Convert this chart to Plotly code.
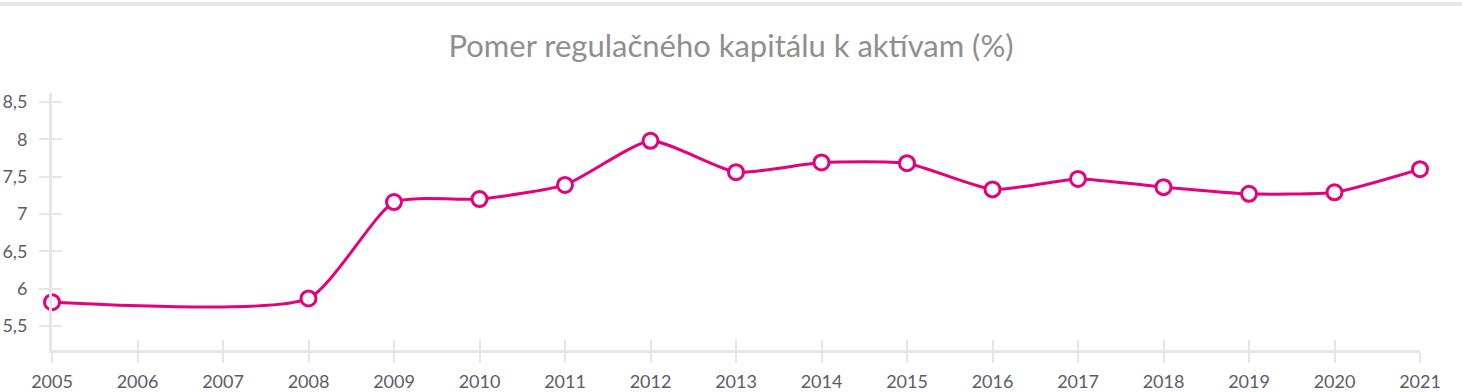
import plotly.graph_objects as go

years = [2005, 2008, 2009, 2010, 2011, 2012, 2013, 2014, 2015, 2016, 2017, 2018, 2019, 2020, 2021]
values = [5.82, 5.87, 7.16, 7.20, 7.39, 7.98, 7.56, 7.69, 7.68, 7.33, 7.47, 7.36, 7.27, 7.29, 7.60]
x_ticks = list(range(2005, 2022))
y_ticks = [5.5, 6, 6.5, 7, 7.5, 8, 8.5]
y_tick_labels = ["5,5", "6", "6,5", "7", "7,5", "8", "8,5"]
title = "Pomer regulačného kapitálu k aktívam (%)"

MAG = "#e6007e"
AXC = "#e6e6e6"
LBL = "#5e5a6a"
FONT = "Lato"
yr = [5.18, 8.62]
xr = [2005, 2021]

fig = go.Figure()
fig.add_trace(go.Scatter(
    x=years, y=values, mode="lines+markers",
    line=dict(color=MAG, width=3, shape="spline", smoothing=0.55),
    marker=dict(size=15, color="white", line=dict(color=MAG, width=3)),
    cliponaxis=False, showlegend=False, hoverinfo="x+y",
))

fig.update_layout(
    width=1462, height=392,
    margin=dict(l=52, r=42, t=93, b=42, autoexpand=False),
    paper_bgcolor="white", plot_bgcolor="white",
    separators=", ",
    font=dict(family=FONT, color=LBL, size=17),
    title=dict(text=title, x=0.5, xanchor="center", y=1 - 46 / 392, yanchor="middle",
               font=dict(family=FONT, size=31, color="#8f8f8f")),
    xaxis=dict(range=xr, tickvals=x_ticks, ticktext=[str(v) for v in x_ticks],
               showgrid=False, zeroline=False, showline=True, linecolor=AXC, linewidth=3,
               ticks="outside", ticklen=10, tickwidth=2, tickcolor=AXC,
               ticklabelstandoff=3, automargin=False,
               tickfont=dict(family=FONT, size=18, color=LBL), fixedrange=True),
    xaxis2=dict(range=xr, tickvals=x_ticks, overlaying="x", side="bottom", anchor="y",
                showgrid=False, zeroline=False, showticklabels=False, automargin=False,
                ticks="inside", ticklen=10, tickwidth=2, tickcolor=AXC, fixedrange=True),
    yaxis=dict(range=yr, tickvals=y_ticks, ticktext=y_tick_labels,
               showgrid=False, zeroline=False, showline=True, linecolor=AXC, linewidth=3,
               ticks="outside", ticklen=10, tickwidth=2, tickcolor=AXC,
               ticklabelstandoff=8, automargin=False,
               tickfont=dict(family=FONT, size=18, color=LBL), fixedrange=True),
    yaxis2=dict(range=yr, tickvals=y_ticks, overlaying="y", side="left", anchor="x",
                showgrid=False, zeroline=False, showticklabels=False, automargin=False,
                ticks="inside", ticklen=10, tickwidth=2, tickcolor=AXC, fixedrange=True),
    shapes=[dict(type="line", xref="paper", yref="paper", x0=-52 / 1368, x1=1 + 42 / 1368,
                 y0=1 + (93 - 4) / 257, y1=1 + (93 - 4) / 257,
                 line=dict(color=AXC, width=4))],
)
# invisible trace to activate secondary axes (tick duplicates)
fig.add_trace(go.Scatter(x=[xr[0]], y=[yr[0]], xaxis="x2", yaxis="y2", mode="markers",
                         marker=dict(opacity=0), showlegend=False, hoverinfo="skip"))
fig.data = fig.data[::-1]

fig.write_html("out.html")
